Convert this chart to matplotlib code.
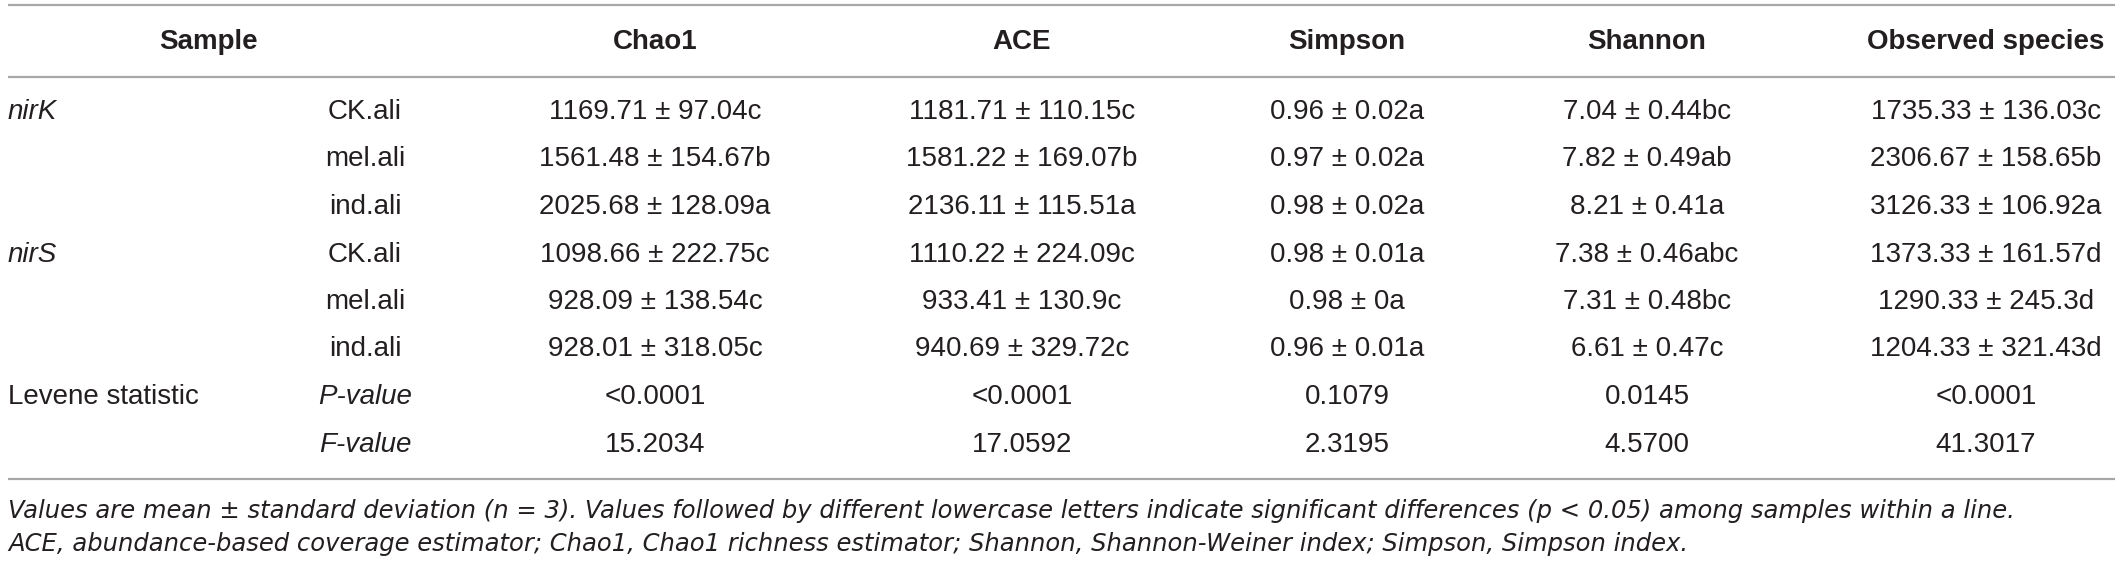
import matplotlib
matplotlib.use("Agg")
import matplotlib.pyplot as plt

# ===== data =====
indices = ["Chao1", "ACE", "Simpson", "Shannon", "Observed species"]
genes = ["nirK", "", "", "nirS", "", ""]
samples = ["CK.ali", "mel.ali", "ind.ali", "CK.ali", "mel.ali", "ind.ali"]

chao1_mean = [1169.71, 1561.48, 2025.68, 1098.66, 928.09, 928.01]
chao1_sd = [97.04, 154.67, 128.09, 222.75, 138.54, 318.05]
chao1_sig = ["c", "b", "a", "c", "c", "c"]

ace_mean = [1181.71, 1581.22, 2136.11, 1110.22, 933.41, 940.69]
ace_sd = [110.15, 169.07, 115.51, 224.09, 130.9, 329.72]
ace_sig = ["c", "b", "a", "c", "c", "c"]

simpson_mean = [0.96, 0.97, 0.98, 0.98, 0.98, 0.96]
simpson_sd = [0.02, 0.02, 0.02, 0.01, 0, 0.01]
simpson_sig = ["a", "a", "a", "a", "a", "a"]

shannon_mean = [7.04, 7.82, 8.21, 7.38, 7.31, 6.61]
shannon_sd = [0.44, 0.49, 0.41, 0.46, 0.48, 0.47]
shannon_sig = ["bc", "ab", "a", "abc", "bc", "c"]

observed_mean = [1735.33, 2306.67, 3126.33, 1373.33, 1290.33, 1204.33]
observed_sd = [136.03, 158.65, 106.92, 161.57, 245.3, 321.43]
observed_sig = ["c", "b", "a", "d", "d", "d"]

levene_p = ["<0.0001", "<0.0001", "0.1079", "0.0145", "<0.0001"]
levene_f = ["15.2034", "17.0592", "2.3195", "4.5700", "41.3017"]

note1 = ("Values are mean \u00b1 standard deviation (n = 3). Values followed by different "
         "lowercase letters indicate significant differences (p < 0.05) among samples within a line.")
note2 = ("ACE, abundance-based coverage estimator; Chao1, Chao1 richness estimator; "
         "Shannon, Shannon-Weiner index; Simpson, Simpson index.")

# ===== layout =====
W, H = 2120, 565
fig = plt.figure(figsize=(W / 100, H / 100), dpi=100)
ax = fig.add_axes([0, 0, 1, 1])
ax.set_xlim(0, W)
ax.set_ylim(H, 0)
ax.axis("off")

plt.rcParams["font.family"] = ["Liberation Sans", "DejaVu Sans"]
txt_color = "#231f20"
line_color = "#a7a7a7"
body_fs = 20
head_fs = 20

x_left = 8
x_sample_head = 208
x_sample = 365
col_x = [655, 1022, 1347, 1647, 1986]

y_head = 42
row_y0 = 112
row_dy = 47.5

# rules
for y in [5, 77, 479]:
    ax.plot([x_left, 2115], [y, y], color=line_color, lw=1.6, solid_capstyle="butt")

# header
ax.text(x_sample_head, y_head, "Sample", ha="center", va="center",
        fontsize=head_fs, fontweight="bold", color=txt_color)
for x, name in zip(col_x, indices):
    ax.text(x, y_head, name, ha="center", va="center",
            fontsize=head_fs, fontweight="bold", color=txt_color)

# body rows
cols = [
    (chao1_mean, chao1_sd, chao1_sig),
    (ace_mean, ace_sd, ace_sig),
    (simpson_mean, simpson_sd, simpson_sig),
    (shannon_mean, shannon_sd, shannon_sig),
    (observed_mean, observed_sd, observed_sig),
]
for i in range(len(samples)):
    y = row_y0 + i * row_dy
    if genes[i]:
        ax.text(x_left, y, genes[i], ha="left", va="center",
                fontsize=body_fs, style="italic", color=txt_color)
    ax.text(x_sample, y, samples[i], ha="center", va="center",
            fontsize=body_fs, color=txt_color)
    for x, (m, s, g) in zip(col_x, cols):
        ax.text(x, y, f"{m[i]:g} \u00b1 {s[i]:g}{g[i]}", ha="center", va="center",
                fontsize=body_fs, color=txt_color)

# Levene rows
y_p = row_y0 + 6 * row_dy
y_f = row_y0 + 7 * row_dy
ax.text(x_left, y_p, "Levene statistic", ha="left", va="center",
        fontsize=body_fs, color=txt_color)
ax.text(x_sample, y_p, "P-value", ha="center", va="center",
        fontsize=body_fs, style="italic", color=txt_color)
ax.text(x_sample, y_f, "F-value", ha="center", va="center",
        fontsize=body_fs, style="italic", color=txt_color)
for x, p, f in zip(col_x, levene_p, levene_f):
    ax.text(x, y_p, p, ha="center", va="center", fontsize=body_fs, color=txt_color)
    ax.text(x, y_f, f, ha="center", va="center", fontsize=body_fs, color=txt_color)

# footnotes
for y, note in [(511, note1), (544, note2)]:
    ax.text(x_left, y, note, ha="left", va="center", fontsize=17.5,
            style="italic", family=["DejaVu Sans"], color=txt_color)

fig.savefig("out.png", dpi=100)
